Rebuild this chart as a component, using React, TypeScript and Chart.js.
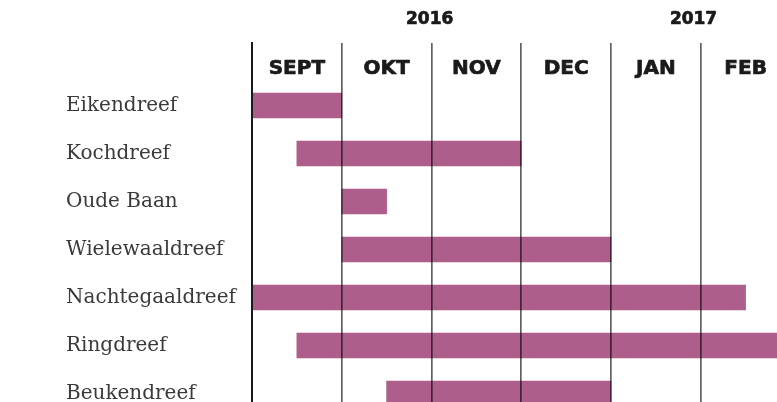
import React, { useEffect, useRef } from "react";
import { Chart, registerables } from "chart.js";

Chart.register(...registerables);

const streets = [
  "Eikendreef",
  "Kochdreef",
  "Oude Baan",
  "Wielewaaldreef",
  "Nachtegaaldreef",
  "Ringdreef",
  "Beukendreef",
];
// months counted from 1 September 2016
const startMonth = [0, 0.5, 1, 1, 0, 0.5, 1.5];
const endMonth = [1, 3, 1.5, 4, 5.5, 6, 4];

const monthLabels = ["SEPT", "OKT", "NOV", "DEC", "JAN", "FEB"];
const yearLabels = ["2016", "2017"];
const yearCenters = [1.98, 4.92];

const BAR = "#ad5e8b";
const HEAD_FONT = '"DejaVu Sans", sans-serif';

const headerPlugin = {
  id: "header",
  afterDraw(chart: any) {
    const ctx = chart.ctx;
    const x = chart.scales.x;
    ctx.save();
    ctx.fillStyle = "#1a1a1a";
    ctx.strokeStyle = "#1a1a1a";
    ctx.lineWidth = 0.7;
    ctx.lineJoin = "round";
    ctx.textAlign = "center";
    ctx.textBaseline = "middle";
    ctx.font = `bold 20px ${HEAD_FONT}`;
    monthLabels.forEach((m, i) => {
      const px = x.getPixelForValue(i + 0.5);
      ctx.fillText(m, px, 69);
      ctx.strokeText(m, px, 69);
    });
    ctx.font = `bold 17px ${HEAD_FONT}`;
    yearLabels.forEach((y, i) => {
      const px = x.getPixelForValue(yearCenters[i]);
      ctx.fillText(y, px, 20);
      ctx.strokeText(y, px, 20);
    });
    ctx.restore();
  },
};

export default function App() {
  const ref = useRef<HTMLCanvasElement>(null);
  useEffect(() => {
    if (!ref.current) return;
    const chart = new Chart(ref.current, {
      type: "bar",
      data: {
        datasets: [
          {
            data: streets.map((_, i) => ({ x: [startMonth[i], endMonth[i]], y: i })) as any,
            backgroundColor: BAR,
            borderWidth: 0,
            barThickness: 25,
          },
        ],
      },
      options: {
        indexAxis: "y",
        animation: false,
        responsive: false,
        layout: { padding: { left: 66, top: 43, right: 0, bottom: 0 } },
        plugins: { legend: { display: false }, tooltip: { enabled: false } },
        scales: {
          x: {
            type: "linear",
            position: "top",
            min: 0,
            max: 5.85,
            offset: false,
            afterBuildTicks: (s: any) => {
              s.ticks = [0, 1, 2, 3, 4, 5].map((v) => ({ value: v }));
            },
            afterFit: (s: any) => {
              s.height = 0;
              s.paddingLeft = 0;
              s.paddingRight = 0;
            },
            ticks: { display: false },
            border: { display: false },
            grid: {
              z: 1,
              drawTicks: false,
              offset: false,
              lineWidth: 1.7,
              color: (c: any) => (c.tick && c.tick.value === 0 ? "rgba(0,0,0,0)" : "rgba(0,0,0,0.62)"),
            },
          },
          y: {
            type: "linear",
            reverse: true,
            offset: false,
            min: -1.302,
            max: 6.177,
            afterBuildTicks: (s: any) => {
              s.ticks = streets.map((_, i) => ({ value: i }));
            },
            afterFit: (s: any) => {
              s.width = 186;
              s.paddingTop = 0;
              s.paddingBottom = 0;
            },
            grid: { display: false, drawTicks: false, offset: false },
            border: { display: true, color: "#1a1a1a", width: 2, z: 1 },
            ticks: {
              crossAlign: "far",
              autoSkip: false,
              color: "#3a3a3a",
              font: { family: '"DejaVu Serif", serif', size: 20 },
              callback: (v: any) => streets[v] ?? "",
            },
          },
        },
      },
      plugins: [headerPlugin],
    });
    return () => chart.destroy();
  }, []);
  return (
    <div style={{ position: "absolute", left: 0, top: 0, width: 777, height: 402, background: "#fff" }}>
      <canvas ref={ref} width={777} height={402} style={{ display: "block" }} />
    </div>
  );
}
